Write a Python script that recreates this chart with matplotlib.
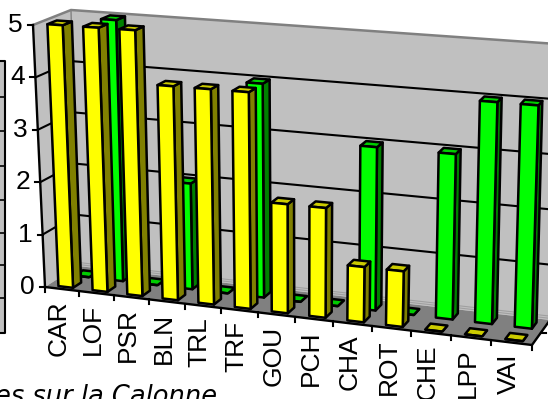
import numpy as np
import matplotlib
matplotlib.use('Agg')
import matplotlib.pyplot as plt
from matplotlib.patches import Polygon

categories = ['CAR', 'LOF', 'PSR', 'BLN', 'TRL', 'TRF', 'GOU', 'PCH', 'CHA', 'ROT', 'CHE', 'LPP', 'VAI']
yellow_values = [5, 5, 5, 4, 4, 4, 2, 2, 1, 1, 0, 0, 0]
green_values = [0, 5, 0, 2, 0, 4, 0, 0, 3, 0, 3, 4, 4]
value_ticks = [0, 1, 2, 3, 4, 5]
caption = 'es sur la Calonne'

# pixel corners of the 3d box, (front/back)(left/right)(bottom/top)
FLB, FLT = np.array([45, 287.]), np.array([33, 25.])
FRB, FRT = np.array([532, 345.]), np.array([543, 60.])
BLB, BLT = np.array([78, 266.]), np.array([71, 10.])
BRB, BRT = np.array([550, 320.]), np.array([557, 44.])
VMAX = 5.0
N = len(categories)


def project(c, d, v):
    # c = category position (0..N), d = depth 0..1, v = value
    u = c / N
    f = 0.9025 * u + 0.0975 * u * u  # perspective squeeze along the x axis
    t = v / VMAX
    front = (1 - f) * ((1 - t) * FLB + t * FLT) + f * ((1 - t) * FRB + t * FRT)
    back = (1 - f) * ((1 - t) * BLB + t * BLT) + f * ((1 - t) * BRB + t * BRT)
    return (1 - d) * front + d * back


def draw_bar(ax, k, v, d0, d1, colors, z):
    c0, c1 = k + 0.30, k + 0.73
    front = [project(c0, d0, 0), project(c1, d0, 0), project(c1, d0, v), project(c0, d0, v)]
    side = [project(c1, d0, 0), project(c1, d1, 0), project(c1, d1, v), project(c1, d0, v)]
    top = [project(c0, d0, v), project(c1, d0, v), project(c1, d1, v), project(c0, d1, v)]
    for pts, col in zip([side, top, front], colors):
        ax.add_patch(Polygon(pts, closed=True, fc=col, ec='black', lw=1.8, joinstyle='round', zorder=z))


fig = plt.figure(figsize=(5.48, 3.99), dpi=100)
ax = fig.add_axes([0, 0, 1, 1])
ax.set_xlim(0, 548)
ax.set_ylim(399, 0)
ax.axis('off')

# walls and floor
ax.add_patch(Polygon([BLB, BRB, BRT, BLT], fc='#c0c0c0', ec='none', zorder=1))
ax.add_patch(Polygon([FLB, BLB, BLT, FLT], fc='#c0c0c0', ec='none', zorder=1))
ax.add_patch(Polygon([FLB, FRB, BRB, BLB], fc='#808080', ec='none', zorder=1))

# gridlines
for v in value_ticks[1:-1]:
    a, b, c = project(0, 0, v), project(0, 1, v), project(N, 1, v)
    ax.plot([a[0], b[0], c[0]], [a[1], b[1], c[1]], color='black', lw=1.5, zorder=2)
ax.plot([FLT[0], BLT[0], BRT[0]], [FLT[1], BLT[1], BRT[1]], color='#808080', lw=1.8, zorder=2)
ax.plot([BLB[0], BLT[0]], [BLB[1], BLT[1]], color='#808080', lw=1.0, zorder=2)
# faint base of the back wall
for off in [0.03, 0.07]:
    a, b = project(0, 1, off), project(N, 1, off)
    ax.plot([a[0], b[0]], [a[1], b[1]], color='#a0a0a0', lw=0.8, zorder=2)

# axes
ax.plot([FLB[0], FLT[0]], [FLB[1], FLT[1]], color='black', lw=1.7, zorder=3)
ax.plot([FLB[0], FRB[0], BRB[0]], [FLB[1], FRB[1], BRB[1]], color='black', lw=1.7, zorder=3)
for v in value_ticks:
    p = project(0, 0, v)
    ax.plot([p[0] - 5, p[0]], [p[1], p[1]], color='black', lw=1.5, zorder=3)
    ax.text(p[0] - 10, p[1], str(v), ha='right', va='center', fontsize=19,
            family='Liberation Sans')
for k in range(N + 1):
    p = project(k, 0, 0)
    ax.plot([p[0], p[0]], [p[1], p[1] + 5], color='black', lw=1.5, zorder=3)
p = project(N, 0.5, 0)
ax.plot([p[0], p[0] + 5], [p[1], p[1]], color='black', lw=1.5, zorder=3)

# bars, back row first
for k in range(N):
    draw_bar(ax, k, green_values[k], 0.60, 0.85, ['#008000', '#00cc00', '#00ff00'], 4)
for k in range(N):
    draw_bar(ax, k, yellow_values[k], 0.10, 0.35, ['#808000', '#cccc00', '#ffff00'], 5)

# category labels
for k, name in enumerate(categories):
    p = project(k + 0.5, 0, 0)
    ax.text(p[0] - 3, p[1] + 11, name, rotation=90, ha='center', va='top', fontsize=19,
            family='Liberation Sans')

# caption cut by the image edge, and the edge of the neighbouring table
ax.text(217, 404, caption, ha='right', va='baseline', fontsize=18.5, style='italic',
        family='DejaVu Sans', clip_on=False)
stub_rows = [61, 97, 131, 166, 200, 233, 265, 298, 333]
ax.fill_between([0, 5], stub_rows[0], stub_rows[-1], color='#c0c0c0', lw=0, zorder=1)
ax.plot([0, 5, 5, 0], [stub_rows[0], stub_rows[0], stub_rows[-1], stub_rows[-1]], color='black', lw=1.5, zorder=2)
for y in stub_rows[1:-1]:
    ax.plot([0, 5], [y, y], color='black', lw=1.2, zorder=2)

fig.savefig('out.png', dpi=100)
